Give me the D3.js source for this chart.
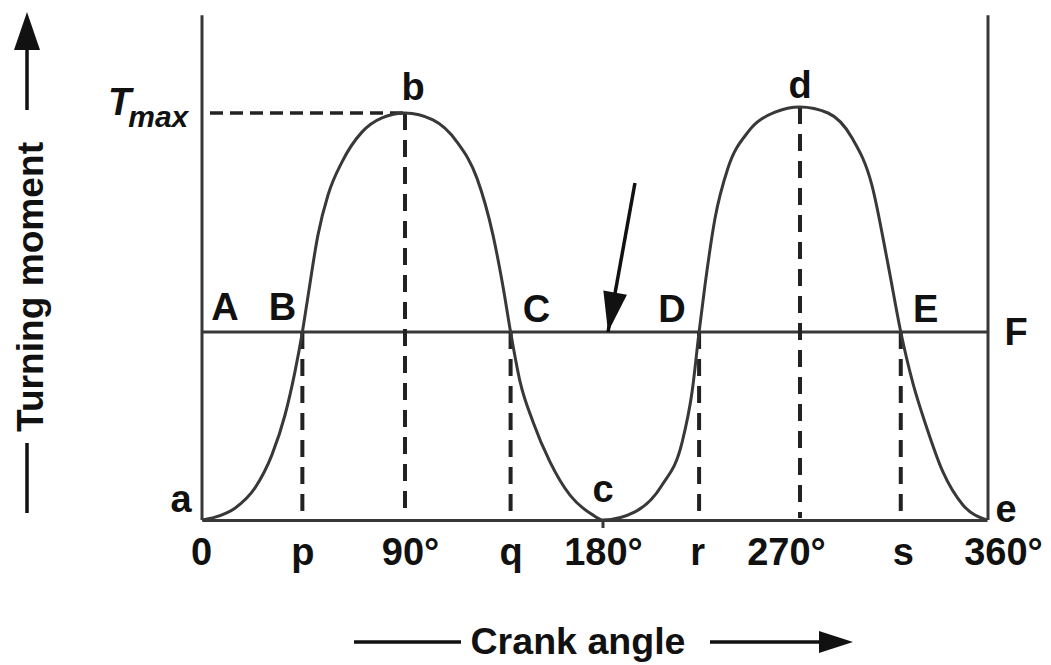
<!DOCTYPE html>
<html>
<head>
<meta charset="utf-8">
<script src="https://cdn.jsdelivr.net/npm/d3@7"></script>
<style>
    body { margin: 0; background: #fff; }
    svg { display: block; }
    text { font-family: "Liberation Sans", Arial, sans-serif; font-weight: bold; fill: #111; }
</style>
</head>
<body>
<div id="chart"></div>
<script>
// Turning moment curve (angle in degrees, torque with Tmax = 100)
const curveAngle = [0, 5.8, 14.6, 23.5, 31.0, 36.8, 41.2, 44.5, 47.0, 51.4, 55.9, 62.1, 70.9, 79.8, 90,
    102.7, 113.6, 122.7, 130, 134.5, 138, 142.3, 148.2, 155.9, 165, 175.5, 180,
    194.6, 207, 216.1, 220.7, 223.9, 226.6, 231.2, 237.1, 246.2, 258.6, 270,
    283.5, 295.0, 304.6, 312.3, 318.5, 324.4, 330.6, 338.8, 348.4, 360];
const curveTorque = [0, 0.7, 2.9, 7.9, 16.0, 25.8, 36.4, 46.2, 55.0, 70.0, 79.9, 88.0, 95.3, 98.8, 100,
    98.3, 92.9, 84.0, 70.0, 57.5, 46.2, 34.0, 24.1, 14.3, 6.1, 1.2, 0,
    2.0, 8.6, 19.0, 31.5, 46.2, 57.7, 74.2, 86.5, 95.3, 100.2, 101.5,
    100, 93.9, 82.3, 63.0, 46.2, 33.5, 23.3, 11.8, 3.7, 0];

const meanTorque = 46.2;
const tMax = 100;
const axisTopTorque = 124;

// dashed drop lines: p, 90, q, r, 270, s
const dropAngle = [44.5, 90, 138, 223.9, 270, 318.5];
const dropTorque = [46.2, 100, 46.2, 46.2, 101.5, 46.2];

const tickAngle = [0, 44.5, 90, 138, 180, 223.9, 270, 318.5, 360];
const tickLabel = ["0", "p", "90°", "q", "180°", "r", "270°", "s", "360°"];
const tickShift = [-1, 0, 5, 0, 0, -2, -14, 2, 16];

// point letters
const letterText = ["a", "b", "c", "d", "e", "A", "B", "C", "D", "E", "F"];
const letterAngle = [0, 90, 180, 270, 360, 0, 44.5, 138, 223.9, 318.5, 360];
const letterTorque = [0, 100, 0, 101.5, 0, 46.2, 46.2, 46.2, 46.2, 46.2, 46.2];
const letterDx = [-21, 8, 0, 0, 19, 23, -20, 26, -27, 25, 29];
const letterDy = [-8, -13, -18, -9, 2, -12, -12, -10, -10, -10, 13];

const width = 1051, height = 665;

const x = d3.scaleLinear()
    .domain([0, 90, 180, 270, 360])
    .range([202, 405, 603, 800, 987]);
const y = d3.scaleLinear()
    .domain([0, tMax])
    .range([520, 113]);

const svg = d3.select("#chart").append("svg")
    .attr("width", width)
    .attr("height", height);

const ink = "#383838";

function arrowHead(x1, y1, x2, y2, len, half) {
    const a = Math.atan2(y2 - y1, x2 - x1);
    const bx = x2 - len * Math.cos(a), by = y2 - len * Math.sin(a);
    const nx = -Math.sin(a) * half, ny = Math.cos(a) * half;
    return "M" + x2 + "," + y2 + "L" + (bx + nx) + "," + (by + ny) + "L" + (bx - nx) + "," + (by - ny) + "Z";
}

// frame: two verticals and the base line
svg.append("line")
    .attr("x1", x(0)).attr("x2", x(0))
    .attr("y1", y(axisTopTorque)).attr("y2", y(0))
    .attr("stroke", ink).attr("stroke-width", 3);
svg.append("line")
    .attr("x1", x(360) + 1).attr("x2", x(360) + 1)
    .attr("y1", y(axisTopTorque)).attr("y2", y(0))
    .attr("stroke", ink).attr("stroke-width", 3);

// tick labels via axis
const xAxis = d3.axisBottom(x)
    .tickValues(tickAngle)
    .tickFormat((d, i) => tickLabel[i])
    .tickSize(0)
    .tickPadding(0);
const axisG = svg.append("g")
    .attr("transform", "translate(0," + y(0) + ")")
    .call(xAxis);
axisG.select(".domain")
    .attr("stroke", ink).attr("stroke-width", 3);
axisG.selectAll(".tick text")
    .attr("y", 45)
    .attr("dy", null)
    .attr("dx", (d, i) => tickShift[i])
    .attr("font-size", 38)
    .attr("font-family", null)
    .attr("fill", "#111");

// small tick at 180
svg.append("line")
    .attr("x1", x(180)).attr("x2", x(180))
    .attr("y1", y(0)).attr("y2", y(0) + 8)
    .attr("stroke", ink).attr("stroke-width", 3);

// mean torque line
svg.append("line")
    .attr("x1", x(0)).attr("x2", x(360))
    .attr("y1", y(meanTorque)).attr("y2", y(meanTorque))
    .attr("stroke", ink).attr("stroke-width", 3);

// Tmax dashed line
svg.append("line")
    .attr("x1", x(0) + 8).attr("x2", x(90))
    .attr("y1", y(tMax)).attr("y2", y(tMax))
    .attr("stroke", "#222").attr("stroke-width", 3.5)
    .attr("stroke-dasharray", "13,7");

// dashed drop lines
svg.selectAll(".drop")
    .data(dropAngle)
    .join("line")
    .classed("drop", true)
    .attr("x1", d => x(d)).attr("x2", d => x(d))
    .attr("y1", (d, i) => y(dropTorque[i]))
    .attr("y2", y(0) - 2)
    .attr("stroke", "#222").attr("stroke-width", 4)
    .attr("stroke-dasharray", "17,10");

// turning moment curve
const line = d3.line()
    .x(d => x(d[0]))
    .y(d => y(d[1]))
    .curve(d3.curveMonotoneX);
svg.append("path")
    .datum(d3.zip(curveAngle, curveTorque))
    .attr("d", line)
    .attr("fill", "none")
    .attr("stroke", ink)
    .attr("stroke-width", 3);

// diagonal arrow pointing at mean line
const arrowFrom = [194.6, 82.8], arrowTo = [182.3, meanTorque];
const ax1 = x(arrowFrom[0]), ay1 = y(arrowFrom[1]), ax2 = x(arrowTo[0]), ay2 = y(arrowTo[1]);
svg.append("line")
    .attr("x1", ax1).attr("y1", ay1).attr("x2", ax2).attr("y2", ay2)
    .attr("stroke", "#111").attr("stroke-width", 3.5);
svg.append("path")
    .attr("d", arrowHead(ax1, ay1, ax2, ay2, 40, 12))
    .attr("fill", "#111");

// letters
svg.selectAll(".letter")
    .data(letterText)
    .join("text")
    .classed("letter", true)
    .attr("x", (d, i) => x(letterAngle[i]) + letterDx[i])
    .attr("y", (d, i) => y(letterTorque[i]) + letterDy[i])
    .attr("text-anchor", "middle")
    .attr("font-size", 38)
    .text(d => d);

// T max
const tLabel = svg.append("text")
    .attr("x", 108)
    .attr("y", y(tMax) + 2)
    .attr("font-style", "italic")
    .attr("font-size", 38)
    .text("T");
tLabel.append("tspan")
    .attr("dx", -3)
    .attr("dy", 12)
    .attr("font-size", 30)
    .text("max");

// y axis title with arrow
svg.append("text")
    .attr("transform", "translate(43,287) rotate(-90)")
    .attr("text-anchor", "middle")
    .attr("font-size", 37)
    .attr("textLength", 290)
    .attr("lengthAdjust", "spacingAndGlyphs")
    .text("Turning moment");
svg.append("line")
    .attr("x1", 27).attr("x2", 27).attr("y1", 513).attr("y2", 443)
    .attr("stroke", "#111").attr("stroke-width", 3.5);
svg.append("line")
    .attr("x1", 27).attr("x2", 27).attr("y1", 110).attr("y2", 40)
    .attr("stroke", "#111").attr("stroke-width", 3.5);
svg.append("path")
    .attr("d", arrowHead(27, 110, 27, 12, 38, 13))
    .attr("fill", "#111");

// x axis title with arrow
svg.append("text")
    .attr("x", 578)
    .attr("y", 654)
    .attr("text-anchor", "middle")
    .attr("font-size", 37)
    .attr("textLength", 215)
    .attr("lengthAdjust", "spacingAndGlyphs")
    .text("Crank angle");
svg.append("line")
    .attr("x1", 354).attr("x2", 461).attr("y1", 642).attr("y2", 642)
    .attr("stroke", "#111").attr("stroke-width", 3.5);
svg.append("line")
    .attr("x1", 710).attr("x2", 830).attr("y1", 642).attr("y2", 642)
    .attr("stroke", "#111").attr("stroke-width", 3.5);
svg.append("path")
    .attr("d", arrowHead(710, 642, 853, 642, 34, 11))
    .attr("fill", "#111");
</script>
</body>
</html>
